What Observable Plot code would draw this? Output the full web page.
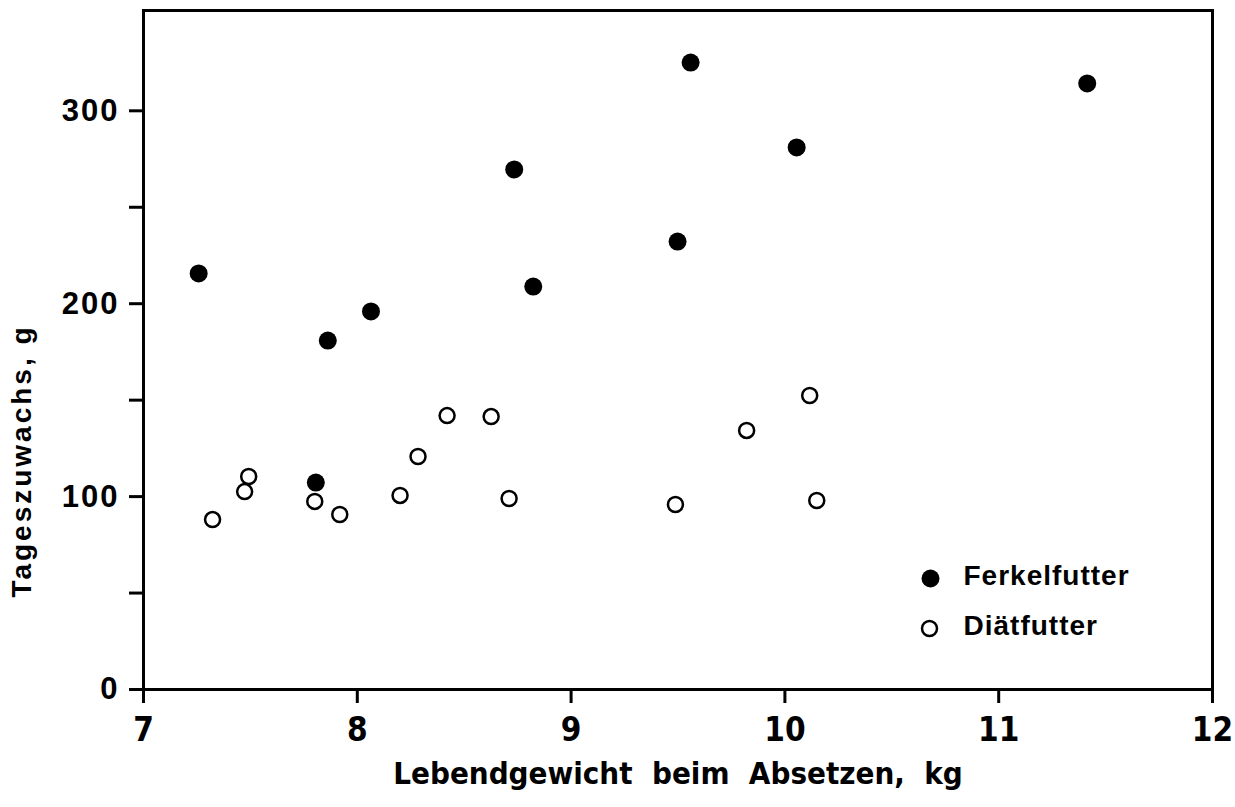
<!DOCTYPE html>
<html>
<head>
<meta charset="utf-8">
<script src="https://cdn.jsdelivr.net/npm/d3@7"></script>
<script src="https://cdn.jsdelivr.net/npm/@observablehq/plot@0.6"></script>
<style>
  html, body { margin: 0; padding: 0; background: #fff; }
  #chart { width: 1235px; height: 807px; }
  g[aria-label="y-axis tick label"] text { letter-spacing: 2px; }
</style>
</head>
<body>
<div id="chart"></div>
<script>
const seriesNames = ["Ferkelfutter", "Diätfutter"];
const ferkelX = [7.258, 7.862, 8.064, 7.806, 8.734, 8.823, 9.559, 9.498, 10.055, 11.414];
const ferkelY = [215.7, 180.9, 196.0, 107.3, 269.6, 208.9, 325.0, 232.2, 281.0, 314.2];
const diaetX = [7.323, 7.473, 7.492, 7.801, 7.918, 8.200, 8.284, 8.420, 8.626, 8.710, 9.488, 9.821, 10.116, 10.149];
const diaetY = [88.1, 102.6, 110.4, 97.5, 90.7, 100.6, 120.8, 142.0, 141.5, 99.0, 95.9, 134.3, 152.4, 98.0];
const xTicks = [7, 8, 9, 10, 11, 12];
const yTicks = [0, 50, 100, 150, 200, 250, 300];
const yTickLabels = {0: "0", 100: "100", 200: "200", 300: "300"};
const xTitle = "Lebendgewicht  beim  Absetzen,  kg";
const yTitle = "Tageszuwachs, g";

const ferkel = ferkelX.map((x, i) => ({x, y: ferkelY[i]}));
const diaet = diaetX.map((x, i) => ({x, y: diaetY[i]}));

const wide = "Liberation Sans, Arial, Helvetica, sans-serif";
const narrow = "Liberation Sans Narrow, DejaVu Sans Condensed, Arial Narrow, sans-serif";

const chart = Plot.plot({
  width: 1235,
  height: 807,
  marginLeft: 143,
  marginRight: 23,
  marginTop: 10,
  marginBottom: 118,
  x: {domain: [7, 12]},
  y: {domain: [0, 352]},
  style: {background: "white", color: "black"},
  marks: [
    Plot.axisX({ticks: xTicks, tickSize: 14, tickPadding: 14, strokeWidth: 3,
      fontSize: 33, fontFamily: narrow, fontWeight: "bold", label: null, tickFormat: d => String(d)}),
    Plot.axisY({ticks: yTicks, tickSize: 14, tickPadding: 10, strokeWidth: 3,
      fontSize: 31, fontFamily: wide, fontWeight: "bold", label: null,
      tickFormat: d => yTickLabels[d] ?? ""}),
    Plot.frame({stroke: "black", strokeWidth: 3}),
    Plot.dot(diaet, {x: "x", y: "y", r: 7.5, stroke: "black", strokeWidth: 2.5, fill: "white"}),
    Plot.dot(ferkel, {x: "x", y: "y", r: 9, fill: "black", stroke: "none"}),
    // legend
    Plot.dot([seriesNames[0]], {frameAnchor: "bottom-right", dx: -282, dy: -111, r: 9, fill: "black"}),
    Plot.dot([seriesNames[1]], {frameAnchor: "bottom-right", dx: -283, dy: -61, r: 7.5, stroke: "black", strokeWidth: 2.5, fill: "white"}),
    Plot.text([seriesNames[0]], {text: d => d, frameAnchor: "bottom-right", dx: -249, dy: -105, textAnchor: "start",
      fontSize: 28, fontFamily: wide, fontWeight: "bold", fill: "black"}),
    Plot.text([seriesNames[1]], {text: d => d, frameAnchor: "bottom-right", dx: -249, dy: -55, textAnchor: "start",
      fontSize: 28, fontFamily: wide, fontWeight: "bold", fill: "black"}),
    // axis titles
    Plot.text([xTitle], {text: d => d, frameAnchor: "bottom", dy: 94, fontSize: 31, fontFamily: narrow,
      fontWeight: "bold", fill: "black"}),
    Plot.text([yTitle], {text: d => d, frameAnchor: "left", textAnchor: "middle", lineAnchor: "middle",
      dx: -121, dy: 111, rotate: -90, fontSize: 28,
      fontFamily: wide, fontWeight: "bold", fill: "black"})
  ]
});
chart.querySelectorAll("text").forEach(t => {
  const s = t.textContent;
  let extra = ";white-space:pre";
  if (s === yTitle) extra += ";letter-spacing:3px";
  if (seriesNames.includes(s)) extra += ";letter-spacing:1px";
  t.setAttribute("style", (t.getAttribute("style") || "") + extra);
});
document.getElementById("chart").append(chart);
</script>
</body>
</html>
